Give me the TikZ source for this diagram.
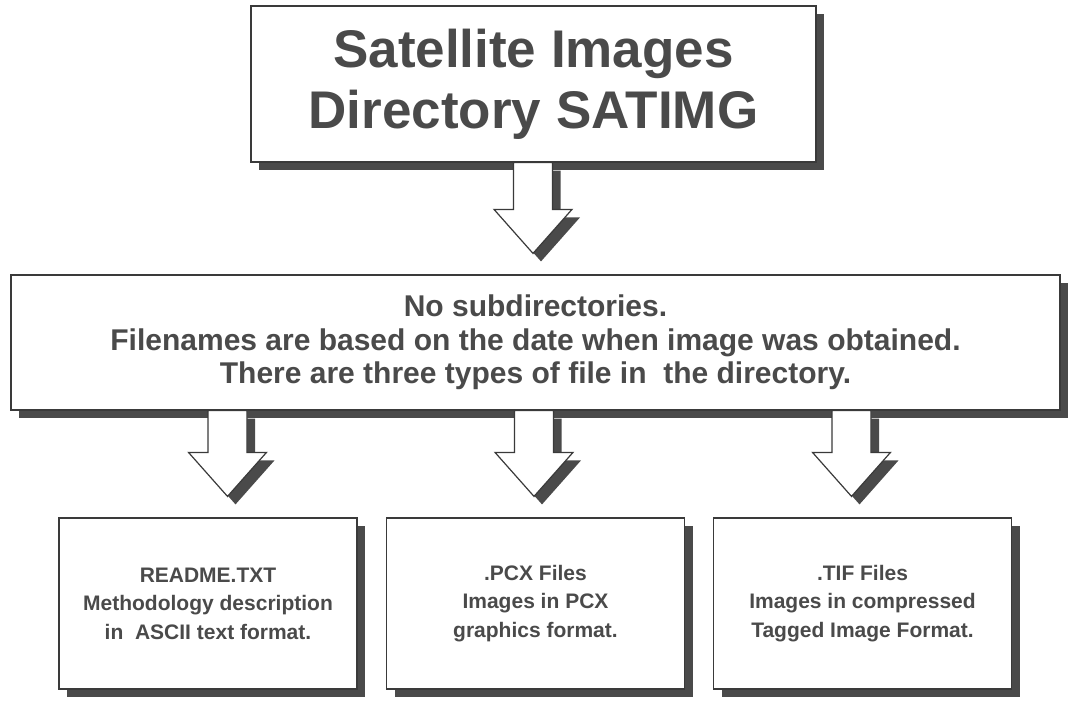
\documentclass[tikz,border=0pt]{standalone}
\usepackage{fontspec}
\setmainfont{Liberation Sans}
\usetikzlibrary{shadows,calc}
\definecolor{shadegray}{HTML}{4A4A4A}
\definecolor{inkgray}{HTML}{4A4A4A}
\definecolor{edgegray}{HTML}{3A3A3A}
% hollow block arrow from one box down to the next, at x position #3
\newcommand\fatarrow[3]{%
  \path[ar] let \p1=(#1.south), \p2=(#2.north) in
    ({#3pt-19.5pt},\y1) -- ({#3pt-19.5pt},{\y2+65pt}) -- ({#3pt-39pt},{\y2+65pt})
    -- ({#3pt},{\y2+21pt}) -- ({#3pt+39pt},{\y2+65pt}) -- ({#3pt+19.5pt},{\y2+65pt})
    -- ({#3pt+19.5pt},\y1) -- cycle;
}
\begin{document}
\begin{tikzpicture}[
        x=1pt, y=-1pt,
        boxshadow/.style={drop shadow={shadow xshift=8pt, shadow yshift=-8pt, fill=shadegray, opacity=1}},
        bx/.style={draw=edgegray, line width=1.2pt, fill=white, text=inkgray, align=center, inner sep=0pt, boxshadow},
        bot/.style={bx, minimum width=298pt, minimum height=171pt, font=\fontsize{21}{28.5}\selectfont\bfseries},
        ar/.style={draw=edgegray, line width=1.2pt, fill=white, boxshadow}
      ]
      \useasboundingbox (0,0) rectangle (1070,702);
      \node[bx, minimum width=565pt, minimum height=156pt, font=\fontsize{53}{61}\selectfont\bfseries]
        (sat) at (533.5,84) {Satellite Images\\Directory SATIMG};
      \node[bx, minimum width=1049pt, minimum height=135pt, font=\fontsize{30}{33.5}\selectfont\bfseries]
        (dir) at (535.5,342.5) {No subdirectories.\\Filenames are based on the date when image was obtained.\\There are three types of file in\ \ the directory.};
      \node[bot] (readme) at (208,603.5) {README.TXT\\Methodology description\\in\ \ ASCII text format.};
      \node[bot] (pcx) at (535.5,603.5) {.PCX Files\\Images in PCX\\graphics format.};
      \node[bot] (tif) at (862.5,603.5) {.TIF Files\\Images in compressed\\Tagged Image Format.};
      \fatarrow{sat}{dir}{533}
      \foreach \src/\ax in {readme/227.5, pcx/534, tif/851.5} {
        \fatarrow{dir}{\src}{\ax}
      }
    \end{tikzpicture}
\end{document}
